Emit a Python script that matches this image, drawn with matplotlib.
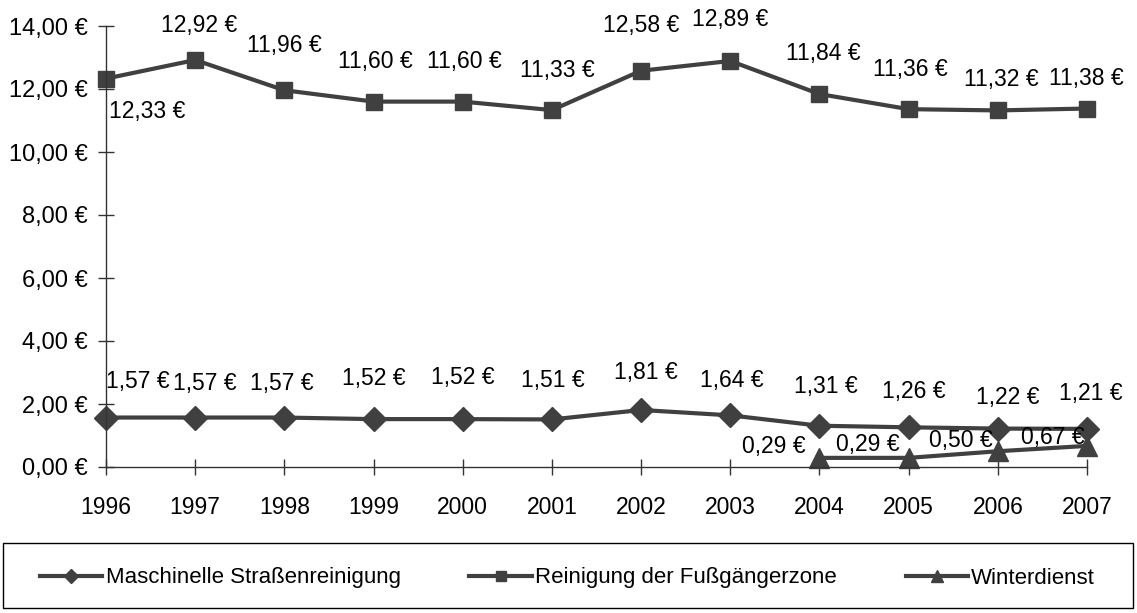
import numpy as np
import matplotlib
matplotlib.use('Agg')
import matplotlib.pyplot as plt
from matplotlib.patches import Rectangle

plt.rcParams['font.family'] = ['Liberation Sans', 'DejaVu Sans']

# --- DATA ---
years = [1996, 1997, 1998, 1999, 2000, 2001, 2002, 2003, 2004, 2005, 2006, 2007]
maschinelle = [1.57, 1.57, 1.57, 1.52, 1.52, 1.51, 1.81, 1.64, 1.31, 1.26, 1.22, 1.21]
fussgaenger = [12.33, 12.92, 11.96, 11.60, 11.60, 11.33, 12.58, 12.89, 11.84, 11.36, 11.32, 11.38]
winter_years = [2004, 2005, 2006, 2007]
winter = [0.29, 0.29, 0.50, 0.67]
series_names = ['Maschinelle Straßenreinigung', 'Reinigung der Fußgängerzone', 'Winterdienst']

# label offsets in pixels (dx, dy) relative to the marker
off_masch = [(32, 36), (10, 34), (-3, 34), (0, 41), (0, 42), (1, 39),
             (5, 37), (2, 35), (6, 39), (5, 36), (10, 31), (4, 35)]
off_fuss = [(41, -33), (4, 35), (0, 45), (2, 40), (2, 40), (5, 40),
            (0, 45), (0, 41), (4, 41), (2, 40), (3, 31), (-1, 30)]
off_winter = [(-46, 11), (-41, 13), (-37, 11), (-34, 8)]

col = '#404040'
fs = 16.5

def euro(v):
    return f"{v:.2f} €".replace('.', ',')

fig = plt.figure(figsize=(11.37, 6.13), dpi=100)
ax = fig.add_axes([106/1137, 1 - 467/613, (1087 - 106)/1137, 441/613])

lm, = ax.plot(years, maschinelle, color=col, lw=3, marker='D', ms=12, label=series_names[0])
lf, = ax.plot(years, fussgaenger, color=col, lw=3, marker='s', ms=12, label=series_names[1])
lw, = ax.plot(winter_years, winter, color=col, lw=3, marker='^', ms=15, label=series_names[2])

px = 72 / 100
for xs, ys, offs in [(years, maschinelle, off_masch), (years, fussgaenger, off_fuss),
                     (winter_years, winter, off_winter)]:
    for x, y, (dx, dy) in zip(xs, ys, offs):
        ax.annotate(euro(y), (x, y), xytext=(dx * px, dy * px), textcoords='offset points',
                    ha='center', va='center', fontsize=fs, color='black')

ax.set_xlim(1996, 2007)
ax.set_ylim(0, 14)
ax.set_xticks(years)
ax.set_yticks(np.arange(0, 15, 2))
ax.yaxis.set_major_formatter(plt.FuncFormatter(lambda v, p: euro(v)))
ax.tick_params(axis='both', direction='inout', length=12, width=1, color='#333333',
               labelsize=fs)
ax.tick_params(axis='y', pad=7, labelsize=17)
ax.tick_params(axis='x', pad=15)
for s in ['top', 'right']:
    ax.spines[s].set_visible(False)
for s in ['left', 'bottom']:
    ax.spines[s].set_color('#333333')
    ax.spines[s].set_linewidth(1)
for l in (lm, lf, lw):
    l.set_clip_on(False)

# legend box drawn separately, legend entries placed inside
fig.patches.append(Rectangle((3/1137, 1 - 608/613), 1130/1137, 65/613, transform=fig.transFigure,
                             fill=False, edgecolor='black', linewidth=1))
leg = fig.legend(handles=[lm, lf, lw], loc='center left', ncol=3,
                 bbox_to_anchor=(40/1137, 1 - 578/613), frameon=False,
                 borderaxespad=0, borderpad=0, fontsize=16, handlelength=2.8,
                 handletextpad=0.15, columnspacing=3.1, markerscale=0.6)

fig.savefig('out.png', dpi=100)
